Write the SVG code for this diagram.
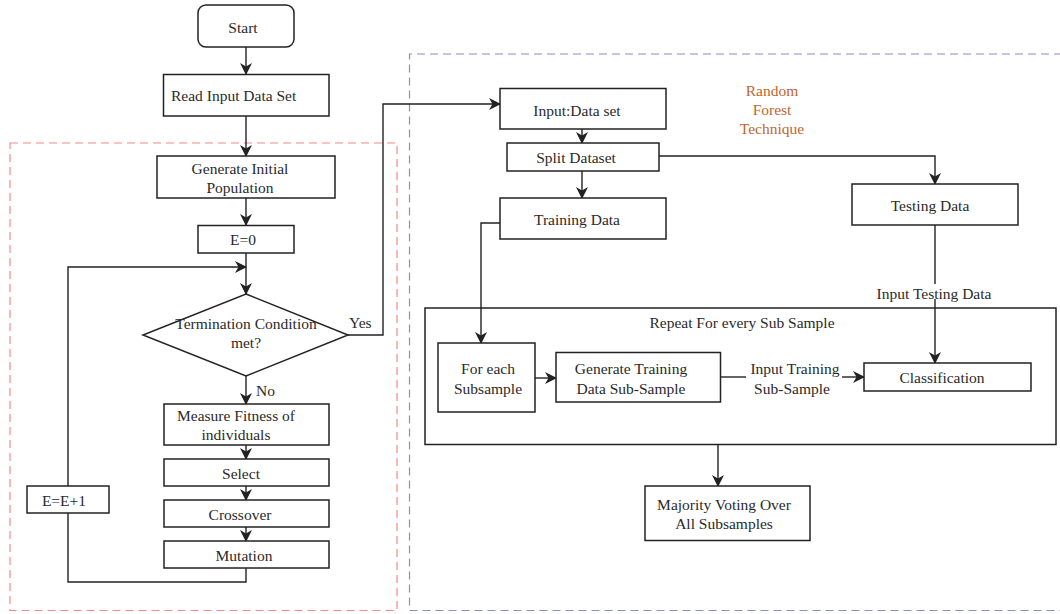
<svg xmlns="http://www.w3.org/2000/svg" width="1060" height="614" viewBox="0 0 1060 614">
<style>
.box{fill:#fff;stroke:#222;stroke-width:1.5}
.frame{fill:none;stroke:#222;stroke-width:1.5}
.t{font-family:"Liberation Serif",serif;font-size:15.5px;fill:#2a2a2a;text-anchor:middle}
.tl{font-family:"Liberation Serif",serif;font-size:15.5px;fill:#2a2a2a}
.or{font-family:"Liberation Serif",serif;font-size:15.5px;fill:#c0652e;text-anchor:middle}
.ln{fill:none;stroke:#222;stroke-width:1.4}
.lna{fill:none;stroke:#222;stroke-width:1.4;marker-end:url(#ah)}
</style>
<defs>
<marker id="ah" viewBox="0 0 12 12" refX="11" refY="6" markerWidth="12" markerHeight="12" markerUnits="userSpaceOnUse" orient="auto">
<path d="M0,0 L12,6 L0,12 L3.5,6 z" fill="#222"/>
</marker>
</defs>
<g id="groups">
<rect x="10" y="143" width="387" height="467.5" fill="none" stroke="#f58a8a" stroke-width="1.2" stroke-dasharray="8,5"/>
<path d="M1062,54 H409.5 V610.5 H1062" fill="none" stroke="#8c8cc8" stroke-width="1.2" stroke-dasharray="8,5"/>
</g>
<g id="repeat"><rect class="frame" x="425" y="308" width="631" height="136.5"/><text class="t" x="742" y="328">Repeat For every Sub Sample</text></g>
<g id="connectors">
<path class="lna" d="M246,47 V74"/>
<path class="lna" d="M246,116 V156"/>
<path class="lna" d="M246,198 V225"/>
<path class="lna" d="M246,253 V294"/>
<path class="lna" d="M68,486 V267 H246"/>
<path class="lna" d="M246,376 V404"/>
<path class="lna" d="M246,445 V459"/>
<path class="lna" d="M246,486 V500"/>
<path class="lna" d="M246,527 V541"/>
<path class="ln" d="M246,568 V582 H68 V513"/>
<path class="lna" d="M348,335 H383 V104 H500"/>
<path class="lna" d="M582,129 V143"/>
<path class="lna" d="M582,171 V198"/>
<path class="lna" d="M659,156 H935 V184"/>
<path class="ln" d="M935,225 V284"/>
<path class="lna" d="M935,299 V363"/>
<path class="lna" d="M500,223 H481 V343"/>
<path class="lna" d="M535,378 H556"/>
<path class="ln" d="M720,377 H746"/>
<path class="lna" d="M842,377 H864"/>
<path class="lna" d="M718,445 V486"/>
</g>
<g id="start"><rect class="box" x="198" y="5" width="96" height="42" rx="8"/><text class="t" x="243" y="33">Start</text></g>
<g id="read"><rect class="box" x="163.5" y="74.5" width="165.5" height="41.5"/><text class="tl" x="171" y="101">Read Input Data Set</text></g>
<g id="init"><rect class="box" x="157" y="156" width="178" height="42"/><text class="t" x="240" y="174">Generate Initial</text><text class="t" x="240" y="193">Population</text></g>
<g id="e0"><rect class="box" x="198" y="225.5" width="96" height="27.5"/><text class="t" x="243" y="245">E=0</text></g>
<g id="term"><polygon class="box" points="246,294 348,335 246,376 143,335"/><text class="t" x="246" y="329">Termination Condition</text><text class="t" x="246" y="348">met?</text></g>
<text class="tl" x="349" y="328">Yes</text>
<text class="tl" x="256" y="396">No</text>
<g id="fitness"><rect class="box" x="164" y="404" width="165" height="41"/><text class="t" x="236" y="421">Measure Fitness of</text><text class="t" x="236" y="440">individuals</text></g>
<g id="select"><rect class="box" x="164" y="459" width="165" height="27"/><text class="t" x="241" y="479">Select</text></g>
<g id="crossover"><rect class="box" x="164" y="500" width="165" height="27"/><text class="t" x="240" y="520">Crossover</text></g>
<g id="mutation"><rect class="box" x="164" y="541" width="165" height="27"/><text class="t" x="244" y="561">Mutation</text></g>
<g id="einc"><rect class="box" x="27" y="486" width="82" height="27"/><text class="t" x="64" y="506">E=E+1</text></g>
<g id="rft"><text class="or" x="772" y="96">Random</text><text class="or" x="772" y="115">Forest</text><text class="or" x="772" y="134">Technique</text></g>
<g id="input"><rect class="box" x="500" y="88.5" width="166" height="40.5"/><text class="t" x="577" y="116">Input:Data set</text></g>
<g id="split"><rect class="box" x="507" y="143" width="152" height="28"/><text class="t" x="576" y="163">Split Dataset</text></g>
<g id="training"><rect class="box" x="500" y="198" width="166" height="41"/><text class="t" x="577" y="225">Training Data</text></g>
<g id="testing"><rect class="box" x="852" y="184" width="166" height="41"/><text class="t" x="930" y="211">Testing Data</text></g>
<text class="t" x="934" y="299">Input Testing Data</text>
<g id="foreach"><rect class="box" x="438" y="343" width="97" height="69"/><text class="t" x="488" y="374">For each</text><text class="t" x="488" y="394">Subsample</text></g>
<g id="gents"><rect class="box" x="556" y="352.5" width="164.5" height="49.5"/><text class="t" x="631" y="374">Generate Training</text><text class="t" x="631" y="394">Data Sub-Sample</text></g>
<text class="t" x="795" y="374">Input Training</text>
<text class="t" x="792" y="394">Sub-Sample</text>
<g id="class"><rect class="box" x="864" y="363" width="167" height="28"/><text class="t" x="942" y="383">Classification</text></g>
<g id="majority"><rect class="box" x="645" y="486" width="165" height="54.5"/><text class="t" x="724" y="510">Majority Voting Over</text><text class="t" x="724" y="529">All Subsamples</text></g>
</svg>
